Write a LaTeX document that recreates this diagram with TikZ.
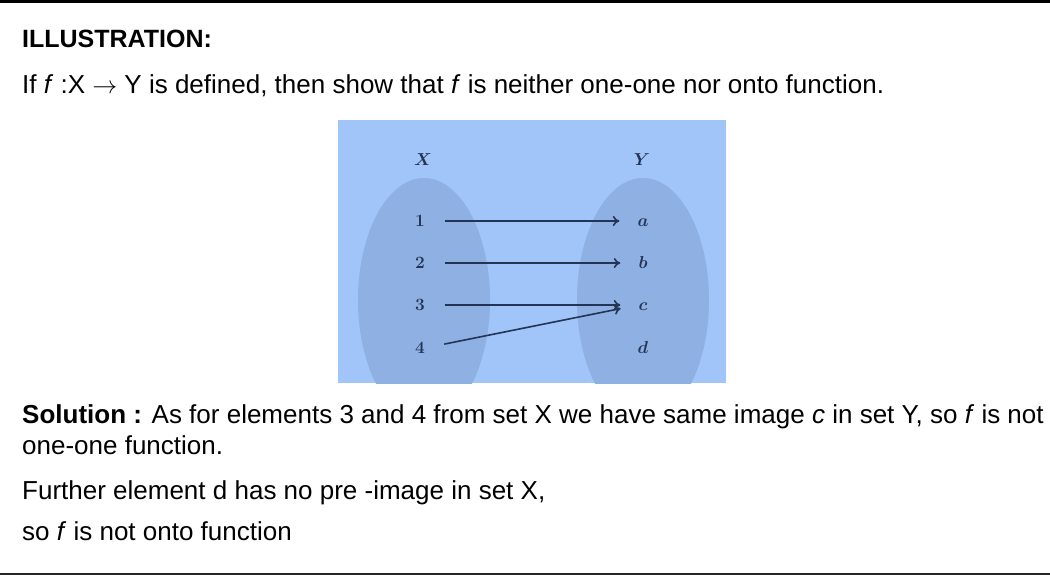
\documentclass[tikz,border=0pt]{standalone}
\usepackage{fontspec}
\setmainfont{Liberation Sans}
\usetikzlibrary{arrows.meta}
\definecolor{panel}{RGB}{161,197,248}
\definecolor{ell}{RGB}{142,176,226}
\definecolor{ink}{RGB}{35,52,85}
\begin{document}
\begin{tikzpicture}[x=1pt,y=-1pt,
  txt/.style={anchor=base west, inner sep=0pt, font=\fontsize{26}{31}\selectfont},
  lbl/.style={inner sep=0pt, text height=11pt, text depth=0pt, font=\fontsize{17}{20}\selectfont\boldmath, text=ink},
  maparrow/.style={draw=ink, line width=1.6pt, -{To[length=6.5pt,width=10pt]}, shorten <=19.5pt, shorten >=18pt}]
\useasboundingbox (0,0) rectangle (1050,575);
% rules
\draw[line width=3pt] (0,1.5) -- (1050,1.5);
\draw[line width=1.5pt, black!85] (0,574) -- (1050,574);
% texts
\node[txt, font=\bfseries\fontsize{25}{30}\selectfont] (title) at (22,48) {ILLUSTRATION:};
\node[txt] (q) at (22,94) {If \textit{f} :X $\rightarrow$ Y is defined, then show that \textit{f} is neither one-one nor onto function.};
\node[txt] (s1) at (22,423) {\textbf{Solution :} As for elements 3 and 4 from set X we have same image \textit{c} in set Y, so \textit{f} is not};
\node[txt] (s2) at (22,454) {one-one function.};
\node[txt] (s3) at (22,499) {Further element d has no pre -image in set X,};
\node[txt] (s4) at (22,540) {so \textit{f} is not onto function};
% diagram panel
\fill[panel] (338,120) rectangle (726,383);
\begin{scope}
  \clip (338,120) rectangle (726,383);
  \fill[ell] (424,300) ellipse [x radius=66, y radius=122];
  \fill[ell] (643,300) ellipse [x radius=66, y radius=122];
\end{scope}
\node[lbl] (X) at (423,160) {$X$};
\node[lbl] (Y) at (642,160) {$Y$};
\node[lbl] (n1) at (420,221) {$1$};
\node[lbl] (n2) at (420,263) {$2$};
\node[lbl] (n3) at (420,305) {$3$};
\node[lbl] (n4) at (420,348) {$4$};
\node[lbl] (a) at (643,221) {$a$};
\node[lbl] (b) at (643,263) {$b$};
\node[lbl] (c) at (643,305) {$c$};
\node[lbl] (d) at (643,348) {$d$};
\draw[maparrow] (n1.east) -- (a.west);
\draw[maparrow] (n2.east) -- (b.west);
\draw[maparrow] (n3.east) -- (c.west);
\draw[maparrow] (n4.east) -- (c.west);
\end{tikzpicture}
\end{document}
